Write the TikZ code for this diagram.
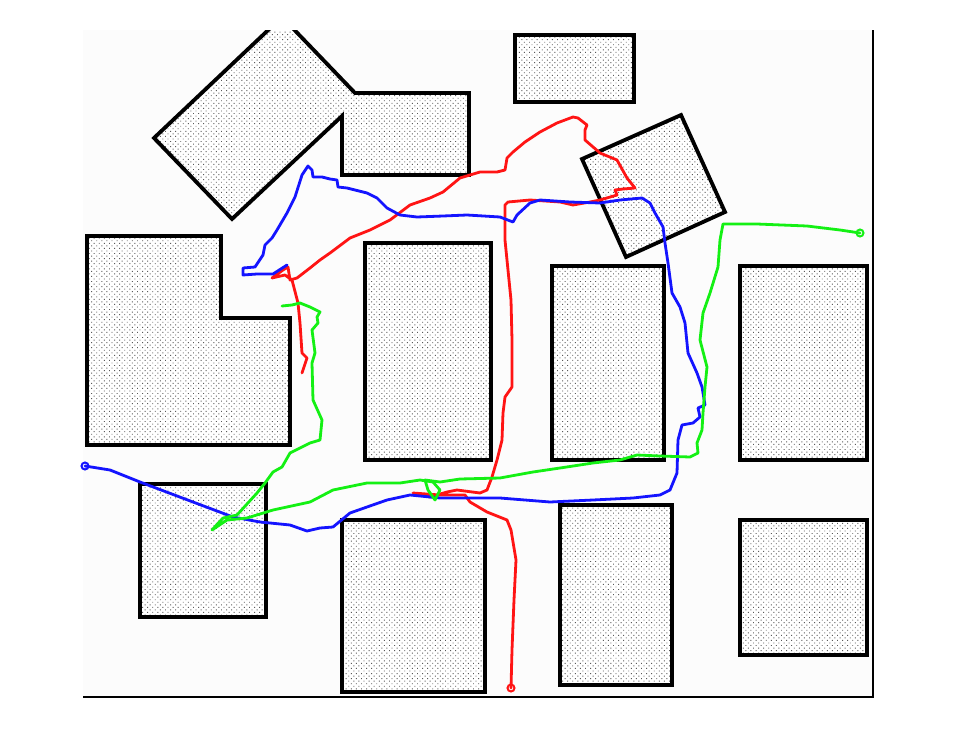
\documentclass[tikz,border=0pt]{standalone}
\usetikzlibrary{patterns.meta}
\definecolor{bgMap}{HTML}{FCFCFC}
\definecolor{dotColor}{HTML}{5A5A5A}
\definecolor{pathRed}{HTML}{FF1414}
\definecolor{pathBlue}{HTML}{1414FF}
\definecolor{pathGreen}{HTML}{14F014}
\tikzset{
  obstacle/.style={
    draw=black, line width=3.8pt, preaction={fill=white},
    pattern={Dots[distance=3.6pt, radius=0.65pt, angle=45]}, pattern color=dotColor,
  },
  traj/.style={
    line width=2.8pt, line join=round, line cap=round,
  },
  startmark/.style={
    line width=2pt, fill=none,
  },
  axisline/.style={
    draw=black, line width=1.8pt,
  },
}

\begin{document}
\begin{tikzpicture}[x=1pt, y=-1pt]

  \useasboundingbox (0,0) rectangle (956,755);

  % === Map area ===
  \fill[bgMap] (83,30) rectangle (873,697);

  % === Obstacles ===
  \begin{scope}
    \clip (83,30) rectangle (873,697);
    \draw[obstacle] (154,138) -- (282,17) -- (355,93) -- (469,93) -- (469,175)
      -- (342,175) -- (342,116) -- (232,219) -- cycle;
    \draw[obstacle] (515,35) rectangle (634,102);
    \draw[obstacle] (582,159) -- (681,115) -- (725,212) -- (626,257) -- cycle;
    \draw[obstacle] (87,236) -- (221,236) -- (221,318) -- (290,318) -- (290,445)
      -- (87,445) -- cycle;
    \draw[obstacle] (365,243) rectangle (491,460);
    \draw[obstacle] (552,266) rectangle (664,460);
    \draw[obstacle] (740,266) rectangle (867,460);
    \draw[obstacle] (140,484) rectangle (266,617);
    \draw[obstacle] (342,520) rectangle (485,692);
    \draw[obstacle] (560,505) rectangle (672,685);
    \draw[obstacle] (740,520) rectangle (867,655);
  \end{scope}

  % === Axes ===
  \draw[axisline] (873,30) -- (873,697) -- (83,697);

  % === Red run ===
  \draw[traj, pathRed] (511,688) -- (512,650) -- (514,600) -- (516,560) -- (511,530)
    -- (507,520) -- (487,512) -- (470,502) -- (465,495) -- (440,495) -- (413,493)
    -- (430,497) -- (447,492) -- (457,490) -- (480,493) -- (487,490) -- (492,477)
    -- (497,460) -- (502,440) -- (503,413) -- (505,397) -- (512,387) -- (512,340)
    -- (511,300) -- (505,240) -- (505,205) -- (508,202) -- (530,200) -- (560,202)
    -- (573,205) -- (590,202) -- (600,200) -- (617,195) -- (615,190) -- (623,189)
    -- (635,188) -- (627,178) -- (617,160) -- (600,153) -- (585,140) -- (585,130)
    -- (587,125) -- (578,118) -- (573,117) -- (557,123) -- (540,132) -- (525,142)
    -- (513,152) -- (507,158) -- (505,170) -- (497,172) -- (480,172) -- (470,175)
    -- (460,178) -- (443,192) -- (430,198) -- (410,205) -- (390,220) -- (370,230)
    -- (350,238) -- (330,253) -- (320,260) -- (310,268) -- (297,278) -- (290,280)
    -- (288,267) -- (283,270) -- (272,278) -- (285,275) -- (292,280) -- (298,303)
    -- (300,323) -- (302,353) -- (307,358) -- (302,373);
  \draw[startmark, pathRed] (511,688) circle (3.5);

  % === Blue run ===
  \draw[traj, pathBlue] (85,466) -- (110,470) -- (140,482) -- (193,502) -- (233,517)
    -- (260,522) -- (290,525) -- (307,531) -- (320,528) -- (333,527) -- (350,513)
    -- (367,507) -- (387,500) -- (410,495) -- (440,498) -- (500,498) -- (550,502)
    -- (593,500) -- (633,498) -- (660,495) -- (670,490) -- (677,473) -- (678,440)
    -- (682,425) -- (693,423) -- (700,417) -- (698,408) -- (705,405) -- (702,387)
    -- (697,373) -- (688,353) -- (685,323) -- (680,307) -- (672,293) -- (668,263)
    -- (665,243) -- (663,227) -- (655,213) -- (650,203) -- (642,198) -- (620,200)
    -- (600,203) -- (570,202) -- (540,200) -- (530,203) -- (517,215) -- (513,222)
    -- (500,217) -- (467,215) -- (443,216) -- (417,217) -- (400,215) -- (387,208)
    -- (377,198) -- (367,193) -- (347,188) -- (338,187) -- (337,180) -- (330,179)
    -- (322,177) -- (313,177) -- (312,170) -- (308,166) -- (302,175) -- (295,197)
    -- (287,213) -- (277,230) -- (272,238) -- (265,245) -- (263,255) -- (255,267)
    -- (243,268) -- (243,275) -- (257,274) -- (273,274) -- (287,265);
  \draw[startmark, pathBlue] (85,466) circle (3.5);

  % === Green run ===
  \draw[traj, pathGreen] (860,233) -- (840,230) -- (807,226) -- (757,224) -- (723,224)
    -- (720,240) -- (718,267) -- (710,293) -- (703,313) -- (700,340) -- (707,367)
    -- (705,387) -- (703,413) -- (702,430) -- (697,443) -- (698,453) -- (690,457)
    -- (660,456) -- (637,455) -- (620,460) -- (593,463) -- (560,468) -- (533,472)
    -- (500,478) -- (460,479) -- (440,482) -- (425,480) -- (428,490) -- (435,500)
    -- (440,490) -- (433,482) -- (420,480) -- (400,483) -- (367,483) -- (333,490)
    -- (310,502) -- (273,510) -- (247,518) -- (227,520) -- (212,530) -- (223,518)
    -- (237,515) -- (257,493) -- (265,483) -- (273,472) -- (282,467) -- (290,453)
    -- (300,448) -- (310,443) -- (320,440) -- (322,420) -- (313,400) -- (312,363)
    -- (315,353) -- (312,330) -- (318,323) -- (317,317) -- (320,312) -- (310,307)
    -- (300,303) -- (292,305) -- (282,306);
  \draw[startmark, pathGreen] (860,233) circle (3.5);

\end{tikzpicture}
\end{document}
